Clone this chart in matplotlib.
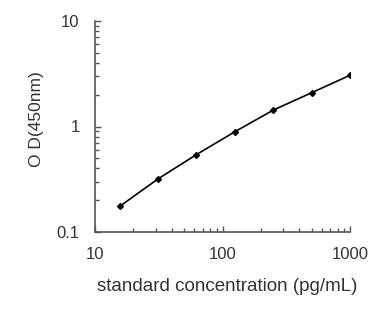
import matplotlib
matplotlib.use("Agg")
import matplotlib.pyplot as plt
from matplotlib.ticker import LogLocator, FixedLocator, FixedFormatter, NullFormatter

conc = [15.625, 31.25, 62.5, 125, 250, 500, 1000]
od = [0.175, 0.319, 0.542, 0.892, 1.43, 2.09, 3.06]
xticks = [10, 100, 1000]
xticklabels = ["10", "100", "1000"]
yticks = [0.1, 1, 10]
yticklabels = ["0.1", "1", "10"]

plt.rcParams['font.family'] = ['Liberation Sans', 'DejaVu Sans']

fig = plt.figure(figsize=(3.84, 3.34), dpi=100)
ax = fig.add_axes([95/384, 1-232/334, (350-95)/384, (232-21)/334])
ax.plot(conc, od, color='black', lw=1.2, marker='D', ms=3, mfc='black', mec='black')
ax.set_xscale('log')
ax.set_yscale('log')
ax.set_xlim(10, 1000)
ax.set_ylim(0.1, 10)
for s in ['top', 'right']:
    ax.spines[s].set_visible(False)
for s in ['left', 'bottom']:
    ax.spines[s].set_color('#555555')
    ax.spines[s].set_linewidth(1.2)
ax.xaxis.set_major_locator(FixedLocator(xticks))
ax.xaxis.set_major_formatter(FixedFormatter(xticklabels))
ax.yaxis.set_major_locator(FixedLocator(yticks))
ax.yaxis.set_major_formatter(FixedFormatter(yticklabels))
ax.xaxis.set_minor_locator(LogLocator(base=10, subs=range(2, 10)))
ax.yaxis.set_minor_locator(LogLocator(base=10, subs=range(2, 10)))
ax.xaxis.set_minor_formatter(NullFormatter())
ax.yaxis.set_minor_formatter(NullFormatter())
ax.tick_params(which='both', direction='in', color='#555555', width=1, labelcolor='#333333', labelsize=12)
ax.tick_params(which='major', length=4)
ax.tick_params(which='minor', length=3)
ax.tick_params(axis='x', which='major', pad=11)
ax.tick_params(axis='y', which='major', pad=11)
ax.set_xlabel("standard concentration (pg/mL)", fontsize=13.5, color='#333333')
ax.set_ylabel("O D(450nm)", fontsize=12.5, color='#333333')
ax.xaxis.set_label_coords(0.518, -0.218)
ax.yaxis.set_label_coords(-0.2, 0.535)
fig.savefig("out.png", dpi=100, facecolor='white')
